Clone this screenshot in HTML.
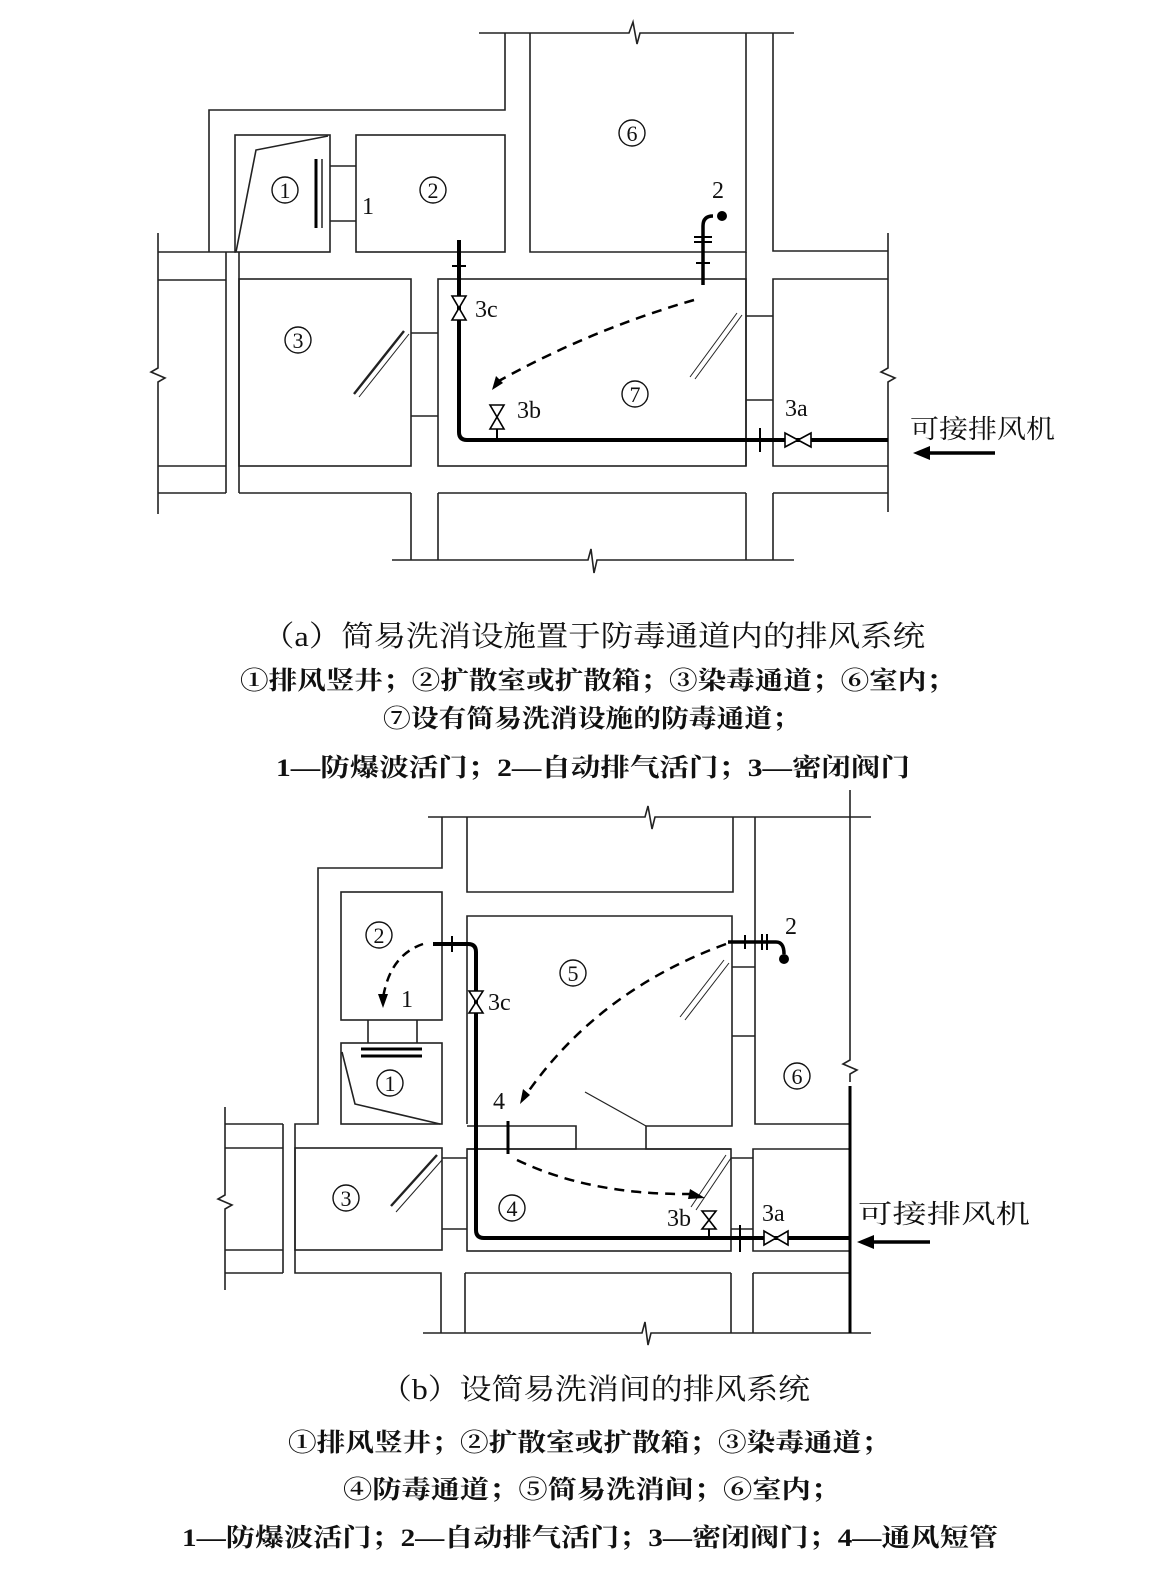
<!DOCTYPE html>
<html><head><meta charset="utf-8"><style>
html,body{margin:0;padding:0;background:#fff;}
svg{display:block;}
text{font-family:"Liberation Serif","Noto Serif CJK SC","Noto Sans CJK SC",serif;fill:#111;}
.cap{font-family:"Liberation Serif","Noto Sans CJK SC",sans-serif;}
</style></head><body>
<svg width="1154" height="1569" viewBox="0 0 1154 1569" xmlns="http://www.w3.org/2000/svg">
<g fill="none" stroke="#222" stroke-width="1.6">
<!-- ===== Diagram (a) ===== -->
<polyline points="479,33 629,33 633,22 637,44 640,33 794,33"/>
<polyline points="505,33 505,110 209,110 209,252"/>
<rect x="235" y="135" width="95" height="117"/>
<polyline points="236,252 256,150 328,136"/>
<line x1="330" y1="166" x2="356" y2="166"/><line x1="330" y1="221" x2="356" y2="221"/>
<rect x="356" y="135" width="149" height="117"/>
<polyline points="530,33 530,252 746,252 746,33"/>
<polyline points="773,33 773,251 888,251"/>
<polyline points="888,233 888,368 881,372 895,378 888,382 888,512"/>
<polyline points="158,233 158,368 151,372 165,378 158,382 158,514"/>
<line x1="158" y1="252" x2="236" y2="252"/>
<line x1="158" y1="280" x2="226" y2="280"/>
<line x1="158" y1="466" x2="226" y2="466"/>
<line x1="158" y1="493" x2="226" y2="493"/>
<line x1="226" y1="252" x2="226" y2="493"/>
<line x1="239" y1="252" x2="239" y2="493"/>
<rect x="239" y="279" width="172" height="187"/>
<line x1="239" y1="493" x2="411" y2="493"/>
<line x1="411" y1="333" x2="438" y2="333"/><line x1="411" y1="416" x2="438" y2="416"/>
<rect x="438" y="279" width="308" height="187"/>
<line x1="438" y1="493" x2="746" y2="493"/>
<line x1="746" y1="316" x2="773" y2="316"/><line x1="746" y1="400" x2="773" y2="400"/>
<line x1="746" y1="252" x2="746" y2="466"/>
<polyline points="888,279 773,279 773,466 888,466"/>
<line x1="773" y1="493" x2="888" y2="493"/>
<polyline points="411,493 411,560"/><polyline points="438,493 438,560"/>
<polyline points="746,493 746,560"/><polyline points="773,493 773,560"/>
<polyline points="392,560 588,560 591,549 594,573 597,560 794,560"/>
<line x1="354" y1="394" x2="404" y2="331" stroke-width="2.4"/>
<line x1="359" y1="397" x2="409" y2="334" stroke-width="1"/>
<line x1="690" y1="377" x2="737" y2="313" stroke-width="1"/>
<line x1="695" y1="379" x2="742" y2="315" stroke-width="1"/>
<!-- ===== Diagram (b) ===== -->
<polyline points="428,817 645,817 648,806 652,829 655,817 871,817"/>
<polyline points="442,817 442,868 318,868 318,1124 295,1124 295,1273 441,1273 441,1333"/>
<polyline points="467,817 467,892 733,892 733,817"/>
<polyline points="755,817 755,1124 850,1124"/>
<polyline points="850,790 850,1060 843,1064 857,1070 850,1074 850,1082"/>
<rect x="341" y="892" width="101" height="128"/>
<line x1="368" y1="1020" x2="368" y2="1043"/><line x1="417" y1="1020" x2="417" y2="1043"/>
<rect x="341" y="1043" width="101" height="81"/>
<polyline points="342,1052 355,1104 440,1124"/>
<polyline points="467,1124 467,916 732,916 732,1126 646,1126 646,1149 731,1149"/>
<polyline points="467,1126 576,1126 576,1149 467,1149"/>
<line x1="585" y1="1092" x2="646" y2="1126" stroke-width="1.2"/>
<rect x="467" y="1149" width="264" height="102"/>
<rect x="295" y="1148" width="147" height="102"/>
<polyline points="225,1107 225,1195 218,1199 232,1205 225,1209 225,1290"/>
<line x1="283" y1="1124" x2="283" y2="1273"/>
<line x1="225" y1="1124" x2="283" y2="1124"/><line x1="225" y1="1148" x2="283" y2="1148"/>
<line x1="225" y1="1250" x2="283" y2="1250"/><line x1="225" y1="1273" x2="283" y2="1273"/>
<line x1="442" y1="1158" x2="467" y2="1158"/><line x1="442" y1="1229" x2="467" y2="1229"/>
<line x1="731" y1="1158" x2="753" y2="1158"/><line x1="731" y1="1229" x2="753" y2="1229"/>
<line x1="732" y1="967" x2="755" y2="967"/><line x1="732" y1="1036" x2="755" y2="1036"/>
<polyline points="850,1149 753,1149 753,1251 850,1251"/>
<polyline points="465,1273 731,1273"/><polyline points="753,1273 850,1273"/>
<line x1="465" y1="1273" x2="465" y2="1333"/>
<line x1="731" y1="1273" x2="731" y2="1333"/>
<line x1="753" y1="1273" x2="753" y2="1333"/>
<polyline points="423,1333 642,1333 645,1322 648,1345 651,1333 871,1333"/>
<line x1="391" y1="1206" x2="437" y2="1155" stroke-width="2.4"/>
<line x1="396" y1="1212" x2="442" y2="1160" stroke-width="1"/>
<line x1="691" y1="1207" x2="726" y2="1155" stroke-width="1"/>
<line x1="696" y1="1210" x2="731" y2="1158" stroke-width="1"/>
<line x1="680" y1="1017" x2="724" y2="960" stroke-width="1"/>
<line x1="685" y1="1020" x2="729" y2="963" stroke-width="1"/>
</g>
<g fill="none" stroke="#000">
<line x1="316" y1="159" x2="316" y2="228" stroke-width="3"/>
<line x1="322" y1="159" x2="322" y2="228" stroke-width="1.3"/>
<path d="M459,240 V432 Q459,440 467,440 H888" stroke-width="4"/>
<line x1="452" y1="266" x2="466" y2="266" stroke-width="2"/>
<line x1="497" y1="440" x2="497" y2="429" stroke-width="2"/>
<line x1="760" y1="428" x2="760" y2="452" stroke-width="2"/>
<path d="M703,285 V226 Q703,216 713,216" stroke-width="3.5"/>
<line x1="694" y1="237" x2="712" y2="237" stroke-width="2"/>
<line x1="694" y1="242" x2="712" y2="242" stroke-width="2"/>
<line x1="696" y1="263" x2="710" y2="263" stroke-width="2"/>
<path d="M694,300 Q590,330 497,382" stroke-width="2.5" stroke-dasharray="10,7"/>
<line x1="995" y1="453" x2="930" y2="453" stroke-width="3.5"/>
<line x1="361" y1="1049" x2="422" y2="1049" stroke-width="3"/>
<line x1="361" y1="1056" x2="422" y2="1056" stroke-width="3"/>
<path d="M433,944 H468 Q476,944 476,952 V1230 Q476,1238 484,1238 H850" stroke-width="4"/>
<line x1="452" y1="936" x2="452" y2="952" stroke-width="2"/>
<line x1="508" y1="1121" x2="508" y2="1154" stroke-width="3"/>
<line x1="709" y1="1238" x2="709" y2="1229" stroke-width="2"/>
<line x1="740" y1="1225" x2="740" y2="1252" stroke-width="2"/>
<line x1="850" y1="1086" x2="850" y2="1333" stroke-width="3"/>
<path d="M728,942 H776 Q784,942 784,954" stroke-width="3.5"/>
<line x1="745" y1="935" x2="745" y2="949" stroke-width="2"/>
<line x1="762" y1="934" x2="762" y2="950" stroke-width="2"/>
<line x1="767" y1="934" x2="767" y2="950" stroke-width="2"/>
<path d="M423,944 Q390,955 383,998" stroke-width="2.5" stroke-dasharray="9,6"/>
<path d="M726,944 Q600,990 528,1092" stroke-width="2.5" stroke-dasharray="10,7"/>
<path d="M517,1160 Q590,1195 690,1194" stroke-width="2.5" stroke-dasharray="10,7"/>
<line x1="930" y1="1242" x2="872" y2="1242" stroke-width="3.5"/>
</g>
<g fill="#000">
<circle cx="722" cy="216" r="5"/>
<circle cx="784" cy="959" r="5"/>
<polygon points="492,390 496,376 503,383"/>
<polygon points="383,1008 378,994 388,994"/>
<polygon points="520,1104 523,1089 530,1095"/>
<polygon points="705,1198 690,1189 688,1199"/>
<polygon points="913,453 930,446 930,460"/>
<polygon points="857,1242 874,1235 874,1249"/>
</g>
<g fill="#fff" stroke="#000" stroke-width="1.6">
<polygon points="452,296 466,296 452,320 466,320"/>
<polygon points="490,405 504,405 490,429 504,429"/>
<polygon points="785,433 785,447 811,433 811,447"/>
<polygon points="469,991 483,991 469,1013 483,1013"/>
<polygon points="702,1211 716,1211 702,1229 716,1229"/>
<polygon points="764,1231 764,1245 788,1231 788,1245"/>
</g>
<!-- circled numbers -->
<g fill="none" stroke="#111" stroke-width="1.4">
<circle cx="285" cy="190" r="13"/><circle cx="433" cy="190" r="13"/><circle cx="632" cy="133" r="13"/>
<circle cx="298" cy="340" r="13"/><circle cx="635" cy="394" r="13"/>
<circle cx="379" cy="935" r="13"/><circle cx="390" cy="1083" r="13"/><circle cx="573" cy="973" r="13"/>
<circle cx="797" cy="1076" r="13"/><circle cx="346" cy="1198" r="13"/><circle cx="512" cy="1208" r="13"/>
</g>
<g font-size="22" text-anchor="middle">
<text x="285" y="198">1</text><text x="433" y="198">2</text><text x="632" y="141">6</text>
<text x="298" y="348">3</text><text x="635" y="402">7</text>
<text x="379" y="943">2</text><text x="390" y="1091">1</text><text x="573" y="981">5</text>
<text x="797" y="1084">6</text><text x="346" y="1206">3</text><text x="512" y="1216">4</text>
</g>
<g font-size="24">
<text x="362" y="214">1</text>
<text x="712" y="198">2</text>
<text x="475" y="317">3c</text>
<text x="517" y="418">3b</text>
<text x="785" y="416">3a</text>
<text x="401" y="1007">1</text>
<text x="785" y="934">2</text>
<text x="488" y="1010">3c</text>
<text x="493" y="1109">4</text>
<text x="667" y="1226">3b</text>
<text x="762" y="1221">3a</text>
</g>
<g class="cap" font-size="26">
<text x="910" y="438" textLength="145" lengthAdjust="spacingAndGlyphs">可接排风机</text>
<text x="858" y="1223" textLength="172" lengthAdjust="spacingAndGlyphs">可接排风机</text>
</g>
<g class="cap" font-size="29">
<text x="262" y="646" textLength="663" lengthAdjust="spacingAndGlyphs">（a）简易洗消设施置于防毒通道内的排风系统</text>
<text x="380" y="1399" textLength="430" lengthAdjust="spacingAndGlyphs">（b）设简易洗消间的排风系统</text>
</g>
<g class="cap" font-size="25" font-weight="bold">
<text x="240" y="689" textLength="715" lengthAdjust="spacingAndGlyphs">①排风竖井；②扩散室或扩散箱；③染毒通道；⑥室内；</text>
<text x="383" y="727" textLength="417" lengthAdjust="spacingAndGlyphs">⑦设有简易洗消设施的防毒通道；</text>
<text x="276" y="776" textLength="634" lengthAdjust="spacingAndGlyphs">1—防爆波活门；2—自动排气活门；3—密闭阀门</text>
<text x="288" y="1451" textLength="602" lengthAdjust="spacingAndGlyphs">①排风竖井；②扩散室或扩散箱；③染毒通道；</text>
<text x="343" y="1498" textLength="497" lengthAdjust="spacingAndGlyphs">④防毒通道；⑤简易洗消间；⑥室内；</text>
<text x="182" y="1546" textLength="816" lengthAdjust="spacingAndGlyphs">1—防爆波活门；2—自动排气活门；3—密闭阀门；4—通风短管</text>
</g>
</svg>
</body></html>
